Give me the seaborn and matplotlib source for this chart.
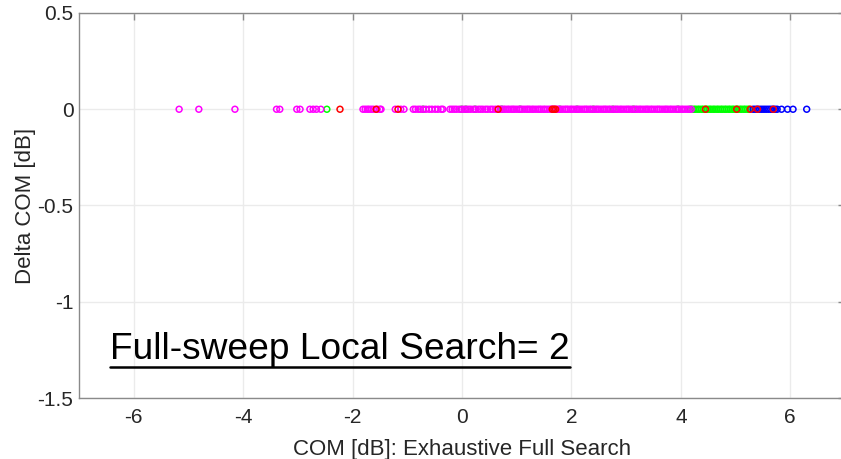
import matplotlib
matplotlib.use("Agg")
import matplotlib.pyplot as plt
import seaborn as sns
import pandas as pd
from matplotlib.lines import Line2D

# ---- data ----
magenta_x = [-5.17, -4.81, -4.15, -3.39, -3.33, -3.02, -2.96, -2.78, -2.72, -2.66, -2.58,
             -1.81, -1.77, -1.73, -1.70, -1.66, -1.62, -1.55, -1.50, -1.48, -1.22, -1.12, -1.06,
             -0.89, -0.85, -0.80, -0.76, -0.71, -0.66, -0.60, -0.55, -0.49, -0.44, -0.38, -0.35,
             -0.22, -0.18, -0.14, -0.10, -0.05, 0.00, 0.04, 0.08, 0.12, 0.16, 0.21, 0.25, 0.30,
             0.34, 0.38, 0.43, 0.47, 0.52, 0.56, 0.61, 0.66, 0.70,
             0.72, 0.76, 0.79, 0.83, 0.86, 0.90, 0.93, 0.96, 1.00, 1.04, 1.07, 1.10, 1.14,
             1.18, 1.21, 1.24, 1.28, 1.31, 1.35, 1.39, 1.42, 1.45, 1.49, 1.52, 1.56, 1.60,
             1.63, 1.66, 1.70, 1.74, 1.77, 1.80, 1.84, 1.88, 1.91, 1.94, 1.98, 2.01, 2.05,
             2.09, 2.12, 2.15, 2.19, 2.23, 2.26, 2.29, 2.33, 2.36, 2.40, 2.44, 2.47, 2.50,
             2.54, 2.58, 2.61, 2.64, 2.68, 2.71, 2.75, 2.79, 2.82, 2.85, 2.89, 2.92, 2.96,
             3.00, 3.03, 3.06, 3.10, 3.14, 3.17, 3.20, 3.24, 3.27, 3.31, 3.35, 3.38, 3.41,
             3.45, 3.48, 3.52, 3.56, 3.59, 3.62, 3.66, 3.70, 3.73, 3.76, 3.80, 3.83, 3.87,
             3.91, 3.94, 3.97, 4.01, 4.04, 4.08, 4.12, 4.15, 4.19]
red_x = [-2.23, -1.57, -1.17, 0.66, 1.65, 1.68, 1.71, 4.45, 5.02, 5.27, 5.40, 5.69]
green_x = [-2.47, -0.71, -0.01, 0.07, 0.24, 0.73, 1.06, 1.79, 2.10, 2.40, 2.76, 3.13, 3.95,
           4.17, 4.20, 4.24, 4.27, 4.31, 4.34, 4.38, 4.41, 4.45, 4.48, 4.52, 4.55, 4.59,
           4.62, 4.66, 4.69, 4.73, 4.76, 4.80, 4.83, 4.87, 4.90, 4.94, 4.97, 5.01, 5.04,
           5.08, 5.11, 5.15, 5.18, 5.22, 5.25]
blue_x = [5.32, 5.36, 5.40, 5.44, 5.48, 5.52, 5.56, 5.60, 5.64, 5.68, 5.72, 5.76,
          5.84, 5.95, 6.05, 6.30]
delta_value = 0.0

x_ticks = [-6, -4, -2, 0, 2, 4, 6]
x_tick_labels = ["-6", "-4", "-2", "0", "2", "4", "6"]
y_ticks = [-1.5, -1.0, -0.5, 0.0, 0.5]
y_tick_labels = ["-1.5", "-1", "-0.5", "0", "0.5"]

x_label = "COM [dB]: Exhaustive Full Search"
y_label = "Delta COM [dB]"
annotation = "Full-sweep Local Search= 2"

series = [("green", green_x, "#00ff00"),
          ("blue", blue_x, "#0000ff"),
          ("magenta", magenta_x, "#ff00ff"),
          ("red", red_x, "#ff0000")]

# ---- style ----
sns.set_style("white")
plt.rcParams["font.family"] = ["Liberation Sans", "DejaVu Sans"]
plt.rcParams["axes.unicode_minus"] = False

W, H = 841, 459
fig = plt.figure(figsize=(W / 100, H / 100), dpi=100)
left, right, top, bottom = 79, 845, 13, 398
ax = fig.add_axes([left / W, 1 - bottom / H, (right - left) / W, (bottom - top) / H])

for name, xs, col in series:
    df = pd.DataFrame({"x": xs, "y": [delta_value] * len(xs)})
    sns.scatterplot(data=df, x="x", y="y", ax=ax, marker="o", s=18,
                    facecolors="none", edgecolor=col, linewidth=1.1, zorder=3)

ax.set_xlim(-7, 7)
ax.set_ylim(-1.5, 0.5)
ax.set_xticks(x_ticks)
ax.set_xticklabels(x_tick_labels)
ax.set_yticks(y_ticks)
ax.set_yticklabels(y_tick_labels)

ax.grid(True, color="#ebebeb", linewidth=1.0, zorder=0)
ax.set_axisbelow(True)
for s in ax.spines.values():
    s.set_color("#8a8a8a")
    s.set_linewidth(1.0)
ax.tick_params(axis="both", direction="in", length=5, width=1.0, color="#8a8a8a",
               labelcolor="#262626", labelsize=15, top=True, right=True)
ax.tick_params(axis="x", pad=7)
ax.tick_params(axis="y", pad=4)

ax.set_xlabel(x_label, fontsize=16, color="#262626", labelpad=9)
ax.set_ylabel(y_label, fontsize=16, color="#262626", labelpad=1)

txt = ax.text((110 - left) / (right - left), (bottom - 359) / (bottom - top), annotation,
              transform=ax.transAxes, fontsize=26.7, color="black", va="baseline", ha="left")

fig.canvas.draw()
bb = txt.get_window_extent(renderer=fig.canvas.get_renderer())
uy = (H - 367) / H
fig.add_artist(Line2D([bb.x0 / W, bb.x1 / W], [uy, uy], transform=fig.transFigure,
                      color="black", linewidth=1.8))

fig.savefig("out.png", dpi=100)
